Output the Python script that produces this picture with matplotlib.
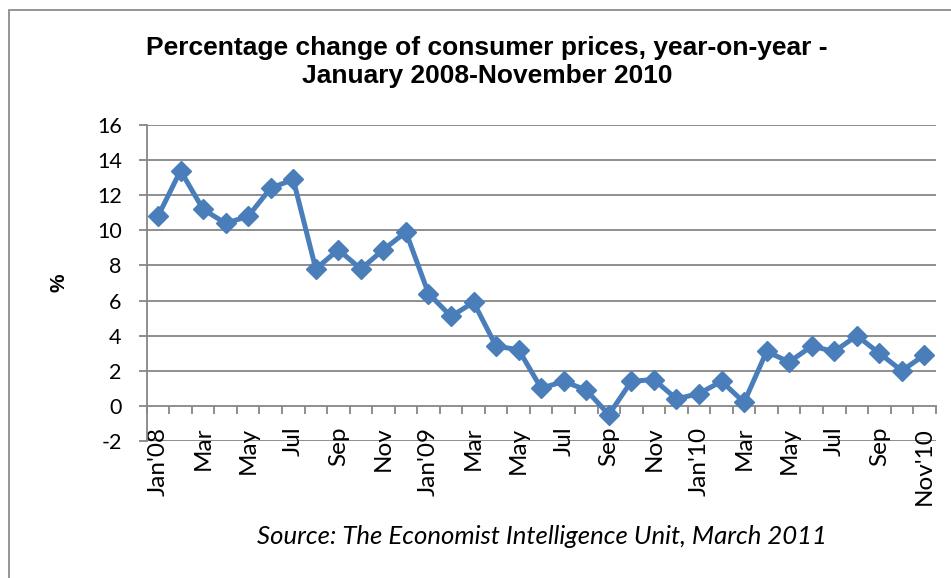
import matplotlib
matplotlib.use("Agg")
import matplotlib.pyplot as plt
from matplotlib.patches import Rectangle
import numpy as np

months = ["Jan'08", "Feb", "Mar", "Apr", "May", "Jun", "Jul", "Aug", "Sep", "Oct", "Nov", "Dec",
          "Jan'09", "Feb", "Mar", "Apr", "May", "Jun", "Jul", "Aug", "Sep", "Oct", "Nov", "Dec",
          "Jan'10", "Feb", "Mar", "Apr", "May", "Jun", "Jul", "Aug", "Sep", "Oct", "Nov'10"]
values = [10.8, 13.4, 11.2, 10.4, 10.8, 12.4, 12.9, 7.8, 8.9, 7.8, 8.9, 9.9,
          6.4, 5.1, 5.9, 3.4, 3.2, 1.0, 1.4, 0.9, -0.5, 1.4, 1.5, 0.4,
          0.7, 1.4, 0.2, 3.1, 2.5, 3.4, 3.1, 4.0, 3.0, 2.0, 2.9]
y_ticks = [-2, 0, 2, 4, 6, 8, 10, 12, 14, 16]

title = "Percentage change of consumer prices, year-on-year -\nJanuary 2008-November 2010"
source = "Source: The Economist Intelligence Unit, March 2011"

W, H = 951, 578
fig = plt.figure(figsize=(W / 100, H / 100), dpi=100)
fig.patch.set_facecolor("white")

# outer chart border
fig.patches.append(Rectangle((9 / W, -0.1), 1.2, 1 - 10 / H + 0.1, transform=fig.transFigure,
                             fill=False, edgecolor="#8c8c8c", linewidth=1.3))

left, right, top, bottom = 146.7, 935.7, 125, 441
ax = fig.add_axes([left / W, 1 - bottom / H, (right - left) / W, (bottom - top) / H])
ax.set_facecolor("none")

x = np.arange(len(values))
ax.set_xlim(-0.5, len(values) - 0.5)
ax.set_ylim(-2, 16)

grid_c = "#868686"
for v in y_ticks:
    if v != 0:
        ax.axhline(v, color=grid_c, linewidth=1.3, zorder=1)

for s in ["top", "right"]:
    ax.spines[s].set_visible(False)
ax.spines["left"].set_color(grid_c)
ax.spines["left"].set_linewidth(1.3)
ax.spines["bottom"].set_position(("data", 0))
ax.spines["bottom"].set_color(grid_c)
ax.spines["bottom"].set_linewidth(1.3)

tick_font = "Lato"
ax.set_yticks(y_ticks)
ax.set_yticklabels([str(v) for v in y_ticks], fontsize=15.5, family=tick_font)
ax.tick_params(axis="y", direction="out", length=6, width=1.3, color=grid_c, pad=12)

ax.set_xticks(x[::2])
ax.set_xticklabels([months[i] for i in x[::2]], rotation=90, fontsize=17.5, family=tick_font,
                   va="top", ha="center")
ax.tick_params(axis="x", which="major", length=0, pad=15)
ax.set_xticks(np.arange(-0.5, len(values)), minor=True)
ax.tick_params(axis="x", which="minor", direction="out", length=6, width=1.3, color=grid_c)

ax.plot(x, values, color="#4A7EBB", linewidth=3.6, marker="D", markersize=10,
        markerfacecolor="#4A7EBB", markeredgecolor="#4A7EBB", zorder=3, clip_on=False)

fig.text(487 / W, 1 - 62 / H, title, ha="center", va="center", fontsize=19,
         fontweight="bold", family="Liberation Sans", linespacing=1.22)
fig.text(59 / W, 1 - 283 / H, "%", rotation=90, ha="center", va="center", fontsize=15,
         fontweight="bold", family="Liberation Sans")
fig.text(542 / W, 1 - 537 / H, source, ha="center", va="center", fontsize=18.5,
         style="italic", family=tick_font)

fig.savefig("out.png", dpi=100, facecolor="white")
